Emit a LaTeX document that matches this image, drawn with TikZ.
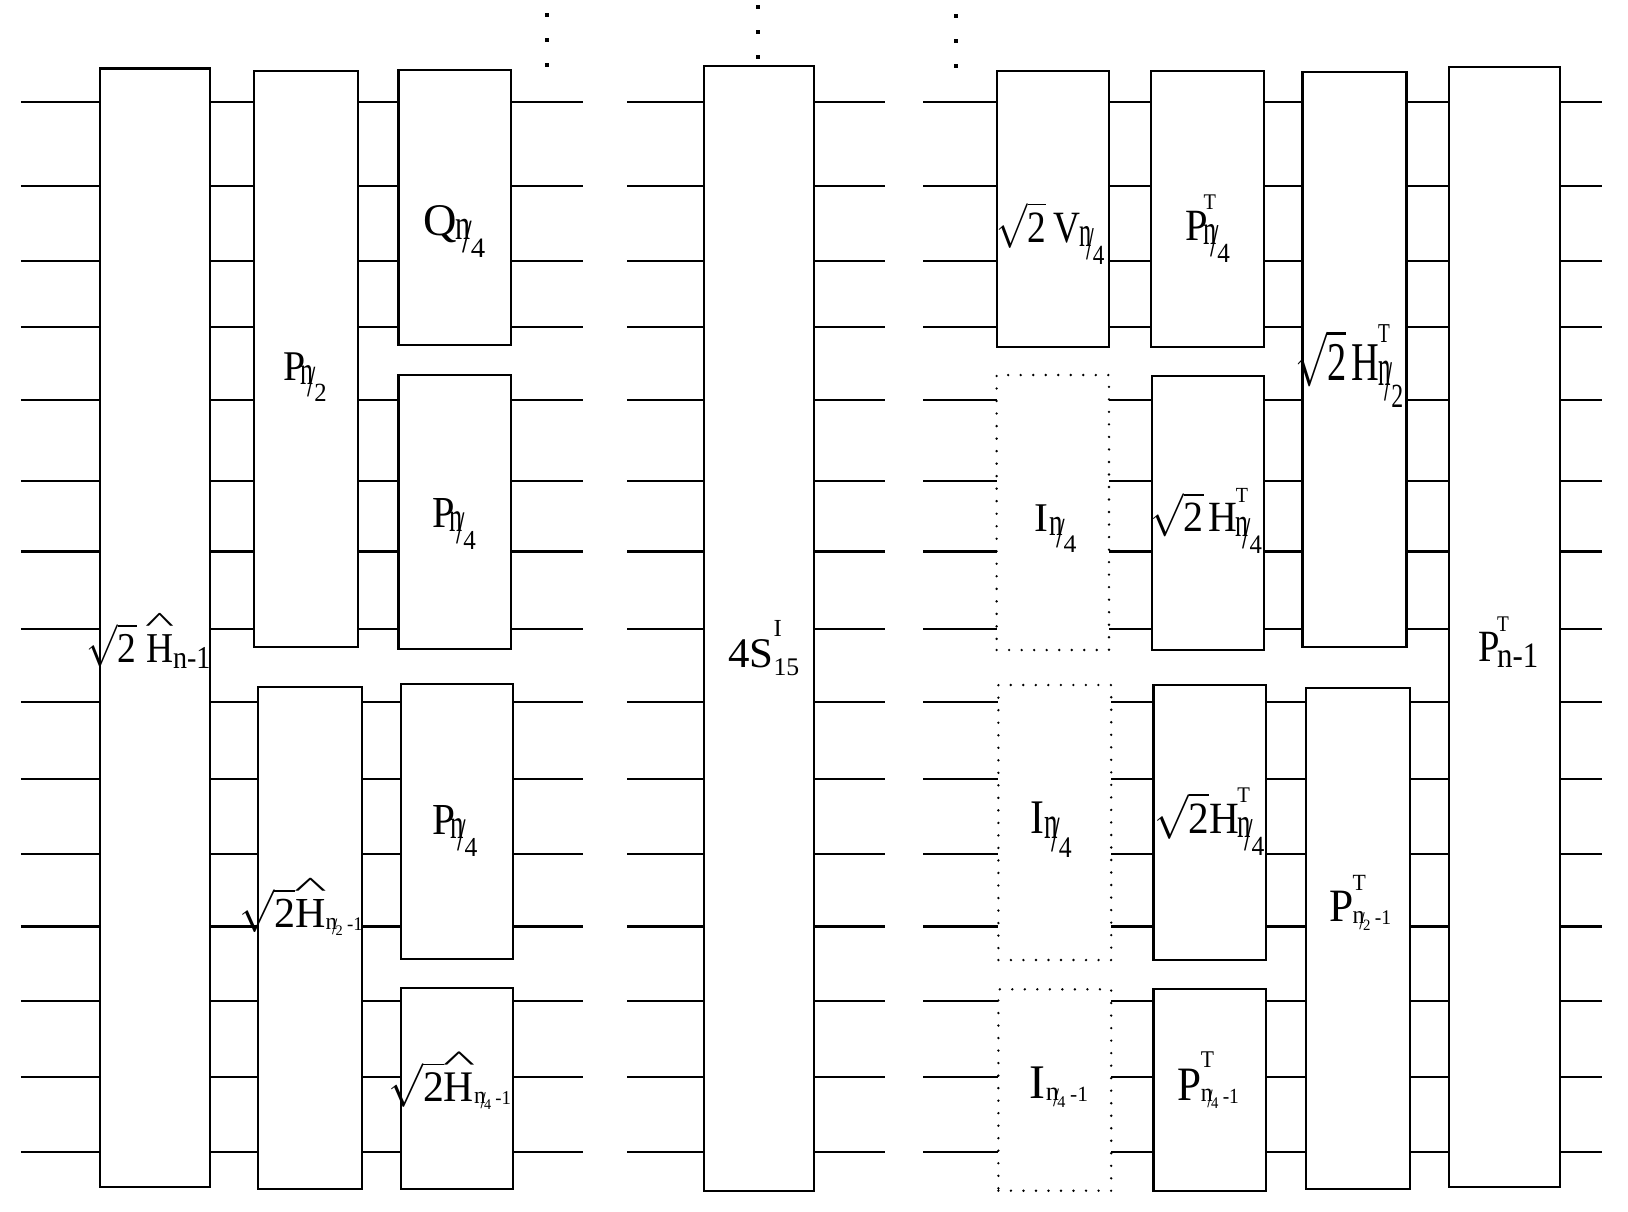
\documentclass[tikz,border=0pt]{standalone}
\usepackage{fontspec}
\setmainfont{Liberation Serif}
\usepackage{graphicx}
\newdimen\pxu \pxu=0.01cm
% big n/d subscript
\newcommand{\nf}[1]{\raisebox{-0.1em}{\scalebox{0.65}[0.95]{n}}\kern-0.16em\raisebox{-0.38em}{\scalebox{0.75}[1.05]{/}}\kern-0.03em\raisebox{-0.5em}{\scalebox{0.62}{#1}}}
% small n/d subscript followed by -1
\newcommand{\snf}[1]{\raisebox{-0.04em}{\scalebox{0.55}{n}}\kern-0.12em\raisebox{-0.16em}{\scalebox{0.45}[0.55]{/}}\kern-0.04em\raisebox{-0.18em}{\scalebox{0.34}{#1}}\kern0.1em\raisebox{-0.07em}{\scalebox{0.45}{-1}}}
\newcommand{\Tup}{\rlap{\raisebox{0.68em}{\scalebox{0.5}{T}}}}
\newcommand{\hH}{{\setbox0\hbox{H}\rlap{\hbox to\wd0{\hss\raisebox{0.72em}{\scalebox{1.65}[0.65]{\char"5E}}\hss}}\box0}}
\newcommand{\rtwo}{\(\sqrt{\hbox{2}}\)}
\newcommand{\gbox}[6][gate]{\node[#1, minimum width={(#5-#3)*\pxu}, minimum height={(#6-#4)*\pxu}] (#2) at ({(#3+#5)/2},{(#4+#6)/2}) {};}
\newcommand{\lab}[6]{\node[lab] (#1) at (#2,#3) {\resizebox{#4\pxu}{#5\pxu}{#6}};}
\begin{document}
\begin{tikzpicture}[x=0.01cm,y=-0.01cm,
  wire/.style={line width=0.6pt},
  gate/.style={draw, fill=white, line width=0.6pt, inner sep=0pt, outer sep=0pt},
  dgate/.style={fill=white, inner sep=0pt, outer sep=0pt, draw, line width=0.75pt, dash pattern=on 0pt off 3.56pt, line cap=round},
  lab/.style={anchor=base west, inner sep=0pt, outer sep=0pt, font=\fontsize{12}{14}\selectfont}]
\useasboundingbox[fill=white] (0,0) rectangle (1628,1211);
% wires
\foreach \y [count=\i] in {101.7,185.7,260.7,326.7,400,481,551.5,629.3,701.7,779.3,854.3,926.5,1001.3,1076.7,1151.7} {
  \coordinate (la\i) at (20.8,\y);  \coordinate (lb\i) at (582.5,\y);
  \coordinate (ma\i) at (627,\y);   \coordinate (mb\i) at (885,\y);
  \coordinate (ra\i) at (923.2,\y); \coordinate (rb\i) at (1602.4,\y);
  \draw[wire] (la\i) -- (lb\i);
  \draw[wire] (ma\i) -- (mb\i);
  \draw[wire] (ra\i) -- (rb\i);
}
% left section
\gbox{A}{99.9}{68.5}{210.1}{1187.3}
\gbox{B}{253.9}{71}{358.2}{646.7}
\gbox{C}{398.5}{70}{511.3}{345}
\gbox{D}{398.5}{374.7}{511.3}{649.3}
\gbox{E}{258.3}{687.3}{362.2}{1189.3}
\gbox{F}{400.7}{684}{513.2}{959}
\gbox{G}{400.7}{988.3}{513.2}{1189.3}
% middle
\gbox{M}{703.7}{66.3}{814}{1191}
% right section
\gbox{R1}{996.6}{71}{1108.9}{346.7}
\gbox{R2}{1151.3}{71}{1264}{346.7}
\gbox{R3}{1302.5}{72}{1406.5}{647.3}
\gbox{R4}{1449.2}{67}{1559.7}{1187}
\gbox[dgate]{I1}{996.6}{375}{1109}{650}
\gbox{R2b}{1151.6}{375.7}{1264}{650}
\gbox[dgate]{I2}{998.4}{685}{1111.2}{960}
\gbox{R2c}{1153.5}{685}{1265.8}{960}
\gbox{R3b}{1306.2}{687.7}{1410.2}{1189.3}
\gbox[dgate]{I3}{998.4}{989.3}{1111.2}{1190.7}
\gbox{R2d}{1153.5}{989.3}{1265.8}{1190.7}
% vertical ellipsis dots
\foreach \x/\y in {547.3/15,547.3/40,547.3/65,757.7/7.3,757.7/32.3,757.7/57.3,956.3/16,956.3/41,956.3/66}
  \fill (\x-2,\y-2) rectangle (\x+2,\y+2);
% labels
\lab{tA}{86.7}{662}{123.8}{48.7}{\rtwo\kern0.25em\hH\raisebox{-0.15em}{\scalebox{0.75}{n-1}}}
\lab{tB}{283.3}{380}{43.4}{27.7}{P\kern-0.12em\nf{2}}
\lab{tC}{423}{235}{62.3}{30}{Q\kern-0.03em\nf{4}}
\lab{tD}{432}{527}{44}{29}{P\kern-0.12em\nf{4}}
\lab{tF}{432.5}{834}{45}{29}{P\kern-0.12em\nf{4}}
\lab{tE}{239.2}{927.5}{123.6}{49}{\rtwo\hH\snf{2}}
\lab{tG}{388.4}{1101.7}{122.5}{50}{\rtwo\hH\snf{4}}
\lab{tM}{728.3}{667.3}{71}{47.3}{4S\rlap{\raisebox{0.74em}{\scalebox{0.58}{I}}}\raisebox{-0.19em}{\scalebox{0.6}{15}}}
\lab{tR1}{996.6}{242.5}{107.7}{40.8}{\rtwo\kern0.2em V\kern-0.02em\nf{4}}
\lab{tR2a}{1185}{240}{45}{45}{P\kern-0.1em\Tup\nf{4}}
\lab{tR3a}{1295}{380}{108.3}{55}{\rtwo\kern0.15em H\kern-0.04em\Tup\nf{2}}
\lab{tR2b}{1150.7}{531.7}{111.3}{43.4}{\rtwo\kern0.12em H\kern-0.04em\Tup\nf{4}}
\lab{tR2c}{1154.4}{833.3}{110}{45}{\rtwo H\kern-0.04em\Tup\nf{4}}
\lab{tI1}{1034.6}{531.7}{41.8}{26.7}{I\kern0.02em\nf{4}}
\lab{tI2}{1030}{833.3}{41.8}{31.6}{I\kern0.02em\nf{4}}
\lab{tR4}{1478}{661.7}{60.3}{45}{P\kern-0.06em\Tup\raisebox{-0.12em}{\scalebox{0.8}{n-1}}}
\lab{tR3b}{1329.4}{921.7}{61.8}{46.7}{P\kern-0.02em\Tup\snf{2}}
\lab{tI3}{1029}{1098.3}{59}{31.6}{I\kern0.02em\snf{4}}
\lab{tR2d}{1177.6}{1100}{61.3}{48.3}{P\kern-0.02em\Tup\snf{4}}
\end{tikzpicture}
\end{document}
